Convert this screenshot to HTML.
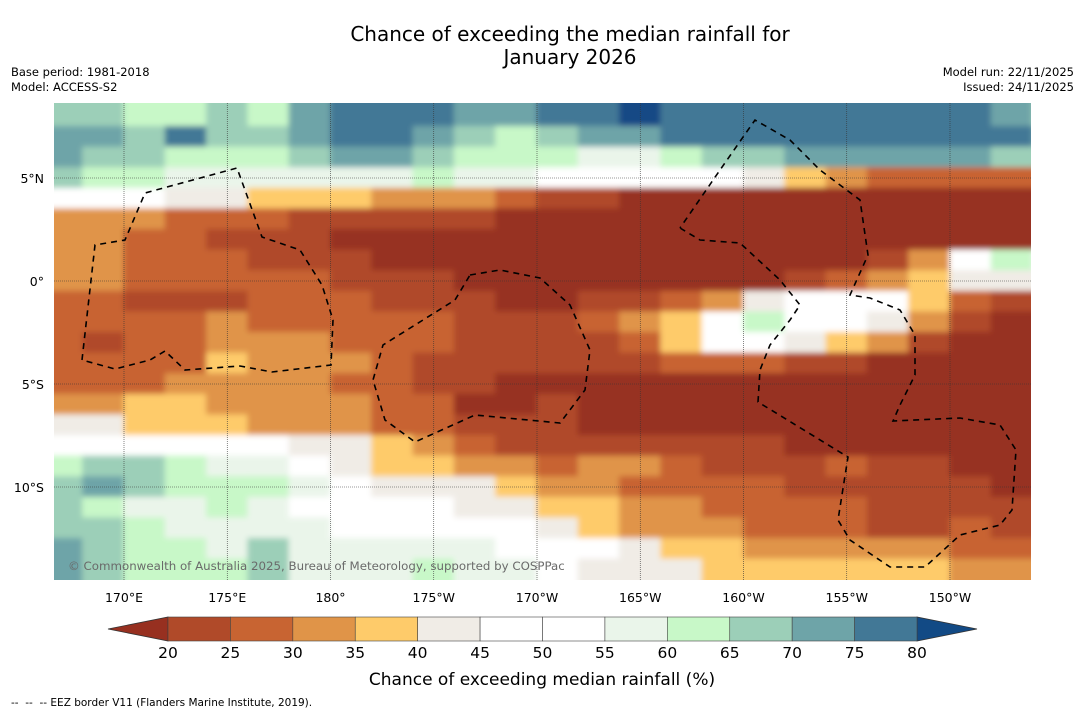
<!DOCTYPE html>
<html><head><meta charset="utf-8"><style>
body{margin:0;background:#fff;width:1085px;height:713px;overflow:hidden;font-family:"DejaVu Sans","Liberation Sans",sans-serif}
svg{position:absolute;left:0;top:0}
</style></head><body>
<svg id="chart" width="1085" height="713" font-family="DejaVu Sans, Liberation Sans, sans-serif">
<defs><clipPath id="mapclip"><rect x="54" y="103" width="977" height="477"/></clipPath>
<filter id="soft" filterUnits="userSpaceOnUse" x="0" y="80" width="1085" height="530"><feGaussianBlur stdDeviation="3"/></filter></defs>
<text x="570" y="41" text-anchor="middle" font-size="20" fill="#000">Chance of exceeding the median rainfall for</text>
<text x="570" y="64" text-anchor="middle" font-size="20" fill="#000">January 2026</text>
<text x="11" y="76" font-size="11.5">Base period: 1981-2018</text>
<text x="11" y="91" font-size="11.5">Model: ACCESS-S2</text>
<text x="1074" y="76" font-size="11.5" text-anchor="end">Model run: 22/11/2025</text>
<text x="1074" y="91" font-size="11.5" text-anchor="end">Issued: 24/11/2025</text>
<g id="field" clip-path="url(#mapclip)"><g id="cells" filter="url(#soft)"></g></g>
<g id="grid" clip-path="url(#mapclip)"></g>
<g id="eez" clip-path="url(#mapclip)"></g>
<g id="axes"></g>
<text x="68" y="570" font-size="11.8" fill="#6a6a6a">© Commonwealth of Australia 2025, Bureau of Meteorology, supported by COSPPac</text>
<g id="cbar"></g>
<text x="542" y="685" text-anchor="middle" font-size="17">Chance of exceeding median rainfall (%)</text>
<text x="11" y="706" font-size="10.5" style="white-space:pre">--  --  -- EEZ border V11 (Flanders Marine Institute, 2019).</text>
</svg>
<script>
const binColors=["#973020","#b04a29","#c86432","#e09448","#fecb6a","#f0ece6","#ffffff","#ffffff","#eaf5ea","#c8f8c8","#9ccfb8","#6ea4a8","#427896","#124a85"];
const binLabels=["20","25","30","35","40","45","50","55","60","65","70","75","80"];
const lonTickVals=[170,175,180,185,190,195,200,205,210];
const lonTickLabels=["170°E","175°E","180°","175°W","170°W","165°W","160°W","155°W","150°W"];
const latTickVals=[5,0,-5,-10];
const latTickLabels=["5°N","0°","5°S","10°S"];
const gridLons=[167,169,171,173,175,177,179,181,183,185,187,189,191,193,195,197,199,201,203,205,207,209,211,213,215];
const gridLats=[8,7,6,5,4,3,2,1,0,-1,-2,-3,-4,-5,-6,-7,-8,-9,-10,-11,-12,-13,-14];
const binRows=[
"a a 9 9 a 9 b c c c b b c c d c c c c c c c c b a",
"b b a c a a b c c b a 9 a b b c c c c c c c c c b",
"b a a 9 9 9 a b b a 9 9 9 8 8 9 a a b b b b b a a",
"a 9 9 8 8 8 8 8 8 9 8 8 6 6 6 6 6 5 4 3 2 2 2 2 2",
"6 6 6 5 5 4 4 4 3 3 3 2 1 1 0 0 0 0 0 0 0 0 0 0 0",
"3 3 3 2 2 2 1 1 1 1 1 0 0 0 0 0 0 0 0 0 0 0 0 0 0",
"3 3 2 2 1 1 1 0 0 0 0 0 0 0 0 0 0 0 0 0 0 0 0 0 0",
"3 3 2 2 2 1 1 1 0 0 0 0 0 0 0 0 0 0 0 0 1 3 6 9 8",
"3 3 2 2 2 2 2 1 1 1 0 0 0 0 0 0 0 0 1 2 3 4 5 5 5",
"2 2 1 1 1 2 2 2 1 1 1 0 0 1 1 2 3 5 6 6 6 4 2 1 1",
"2 2 2 2 3 2 2 2 2 2 1 1 1 2 3 4 6 9 6 6 5 3 1 0 0",
"2 1 2 2 3 3 3 2 2 2 1 1 1 1 2 4 6 6 5 4 3 1 0 0 0",
"2 2 2 2 4 3 3 3 2 1 1 1 1 1 1 2 2 2 1 1 0 0 0 0 0",
"2 2 2 3 3 3 3 2 2 1 1 0 0 0 0 0 0 0 0 0 0 0 0 0 0",
"3 3 4 4 3 3 3 3 2 2 0 0 1 0 0 0 0 0 0 0 0 0 0 0 0",
"5 5 4 4 4 3 3 3 2 2 1 1 1 0 0 0 0 0 0 0 0 0 0 0 0",
"6 6 6 6 6 6 5 5 4 3 2 1 1 1 1 1 1 1 0 0 0 0 0 0 0",
"9 a a 9 8 8 6 5 4 4 3 3 2 3 3 2 1 1 1 2 1 1 0 0 0",
"a b a 9 9 9 8 6 5 5 5 4 3 3 2 2 2 2 1 1 1 1 1 0 0",
"a 9 8 8 9 8 6 6 6 6 5 5 4 4 3 3 2 2 2 2 1 1 1 1 1",
"a a 9 8 8 8 8 6 6 6 6 6 5 4 3 3 3 2 2 2 1 1 2 1 1",
"b a 9 9 8 a 8 8 8 8 8 6 6 6 5 4 4 3 3 3 3 3 2 2 2",
"b a 9 9 9 a 8 8 8 9 8 8 6 5 5 5 4 4 4 4 4 4 3 3 3"
];
function lonX(l){return 124+(l-170)*20.65;}
function latY(l){return 281-l*20.6;}
const NS="http://www.w3.org/2000/svg";
function mk(tag,attrs,parent){const e=document.createElementNS(NS,tag);for(const k in attrs)e.setAttribute(k,attrs[k]);parent.appendChild(e);return e;}
const cells=document.getElementById('cells');
gridLats.forEach((lat,ri)=>{
  const row=binRows[ri].split(' ');
  gridLons.forEach((lon,ci)=>{
    const ch=row[ci]||row[row.length-1];
    const b=parseInt(ch,16);
    const x0=lonX(lon-1),x1=lonX(lon+1);
    let y0=latY(lat+0.5),y1=latY(lat-0.5);
    if(ri===0)y0-=12;
    if(ri===gridLats.length-1)y1+=12;
    const r=mk('rect',{x:x0-0.5,y:y0-0.5,width:x1-x0+1,height:y1-y0+1,fill:binColors[b]},cells);
    
    
  });
});
const grid=document.getElementById('grid'),axes=document.getElementById('axes');
lonTickVals.forEach((v,i)=>{
  const x=lonX(v);
  mk('line',{x1:x,x2:x,y1:103,y2:580,stroke:"#333",'stroke-width':0.6,'stroke-dasharray':"1,1"},grid);
  const t=mk('text',{x:x,y:602,'text-anchor':'middle','font-size':12.5},axes);t.textContent=lonTickLabels[i];
  
  
});
latTickVals.forEach((v,i)=>{
  const y=latY(v);
  mk('line',{x1:54,x2:1031,y1:y,y2:y,stroke:"#333",'stroke-width':0.6,'stroke-dasharray':"1,1"},grid);
  const t=mk('text',{x:44,y:y+5,'text-anchor':'end','font-size':12.5},axes);t.textContent=latTickLabels[i];
  
  
});
const eezPaths=[
[[82,360],[95,245],[125,240],[145,193],[237,168],[262,237],[300,250],[322,285],[333,320],[331,365],[272,372],[240,366],[185,370],[165,351],[150,360],[115,369],[82,360]],
[[470,275],[500,270],[540,278],[570,305],[590,350],[585,390],[560,423],[475,415],[415,442],[385,420],[373,380],[383,345],[455,300],[470,275]],
[[680,228],[700,240],[740,243],[780,280],[800,305],[790,320],[770,345],[760,370],[758,402],[848,457],[838,520],[850,540],[890,567],[925,567],[960,535],[1000,525],[1012,510],[1016,450],[1000,425],[960,418],[893,421],[900,405],[915,375],[915,335],[900,310],[870,298],[850,295],[868,255],[860,200],[820,170],[790,140],[755,120],[720,170],[680,228]]
];
const eez=document.getElementById('eez');
eezPaths.forEach(p=>{
  const e=mk('polyline',{points:p.map(q=>q.join(',')).join(' '),fill:'none',stroke:'#000','stroke-width':1.6,'stroke-dasharray':'6,5'},eez);
  
  
});
const cb=document.getElementById('cbar');
const cbx0=168,cbx1=917,cy0=617,cy1=641,w=(cbx1-cbx0)/12;
let lt=mk('polygon',{points:`108,629 ${cbx0},${cy0} ${cbx0},${cy1}`,fill:binColors[0],stroke:'#333','stroke-width':0.8},cb);


let rt=mk('polygon',{points:`977,629 ${cbx1},${cy0} ${cbx1},${cy1}`,fill:binColors[13],stroke:'#333','stroke-width':0.8},cb);


for(let i=0;i<12;i++){
  const r=mk('rect',{x:cbx0+i*w,y:cy0,width:w,height:cy1-cy0,fill:binColors[i+1],stroke:'#444','stroke-width':0.6},cb);
  
  
}
binLabels.forEach((s,i)=>{
  const t=mk('text',{x:cbx0+i*w,y:658,'text-anchor':'middle','font-size':15.5},cb);t.textContent=s;
  
  
});
</script>
</body></html>
